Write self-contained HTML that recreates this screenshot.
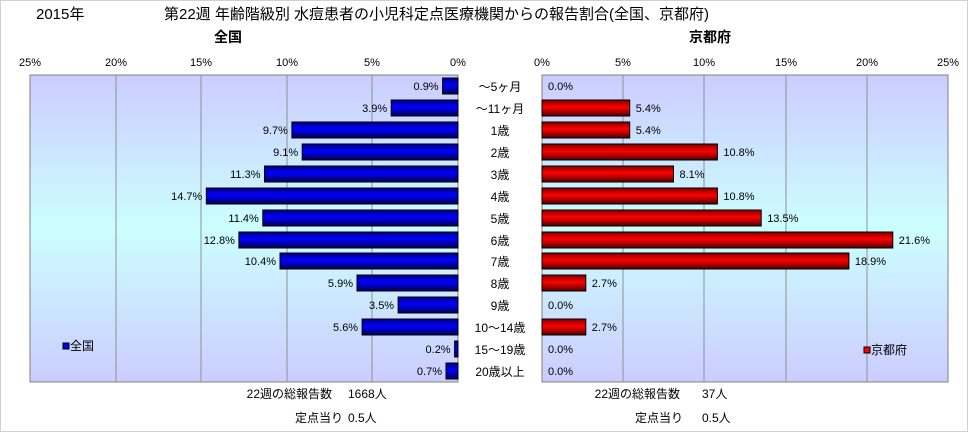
<!DOCTYPE html>
<html><head><meta charset="utf-8"><style>
body{margin:0;background:#fff}
svg{display:block;font-family:"Liberation Sans","Noto Sans CJK JP",sans-serif}
</style></head><body>
<svg width="968" height="432" viewBox="0 0 968 432" xmlns="http://www.w3.org/2000/svg">
<defs>
<linearGradient id="bg" x1="0" y1="0" x2="0" y2="1">
<stop offset="0" stop-color="#ccccff"/><stop offset="0.5" stop-color="#ccffff"/><stop offset="1" stop-color="#ccccff"/>
</linearGradient>
<linearGradient id="bl" x1="0" y1="0" x2="0" y2="1">
<stop offset="0" stop-color="#000080"/><stop offset="0.45" stop-color="#0000ff"/><stop offset="1" stop-color="#000050"/>
</linearGradient>
<linearGradient id="rd" x1="0" y1="0" x2="0" y2="1">
<stop offset="0" stop-color="#800000"/><stop offset="0.45" stop-color="#ff0000"/><stop offset="1" stop-color="#500000"/>
</linearGradient>
</defs>
<rect x="0.5" y="0.5" width="967" height="431" fill="#fff" stroke="#d0d0d0"/>
<text x="36" y="19" font-size="15">2015年</text>
<text x="164" y="19" font-size="15">第22週 年齢階級別 水痘患者の小児科定点医療機関からの報告割合(全国、京都府)</text>
<text x="228" y="42" font-size="14" font-weight="bold" text-anchor="middle">全国</text>
<text x="710" y="42" font-size="14" font-weight="bold" text-anchor="middle">京都府</text>
<rect x="30" y="75" width="428" height="307" fill="url(#bg)" stroke="#808080"/>
<rect x="542" y="75" width="406" height="307" fill="url(#bg)" stroke="#808080"/>
<g stroke="#909090">
<line x1="116" y1="75" x2="116" y2="382"/><line x1="201" y1="75" x2="201" y2="382"/><line x1="287" y1="75" x2="287" y2="382"/><line x1="372" y1="75" x2="372" y2="382"/>
<line x1="623" y1="75" x2="623" y2="382"/><line x1="704" y1="75" x2="704" y2="382"/><line x1="786" y1="75" x2="786" y2="382"/><line x1="867" y1="75" x2="867" y2="382"/>
</g>
<g font-size="11" text-anchor="middle">
<text x="30" y="66">25%</text><text x="116" y="66">20%</text><text x="201" y="66">15%</text><text x="287" y="66">10%</text><text x="372" y="66">5%</text><text x="458" y="66">0%</text>
<text x="542" y="66">0%</text><text x="623" y="66">5%</text><text x="704" y="66">10%</text><text x="786" y="66">15%</text><text x="867" y="66">20%</text><text x="948" y="66">25%</text>
</g>
<g font-size="12" text-anchor="middle">
<text x="500" y="91">～5ヶ月</text><text x="500" y="113">～11ヶ月</text><text x="500" y="135">1歳</text><text x="500" y="157">2歳</text>
<text x="500" y="179">3歳</text><text x="500" y="201">4歳</text><text x="500" y="223">5歳</text><text x="500" y="245">6歳</text>
<text x="500" y="266">7歳</text><text x="500" y="288">8歳</text><text x="500" y="310">9歳</text><text x="500" y="332">10～14歳</text>
<text x="500" y="354">15～19歳</text><text x="500" y="376">20歳以上</text>
</g>
<g fill="url(#bl)" stroke="#000">
<rect x="442.6" y="78" width="15.4" height="16"/>
<rect x="391.2" y="100" width="66.8" height="16"/>
<rect x="291.9" y="122" width="166.1" height="16"/>
<rect x="302.2" y="144" width="155.8" height="16"/>
<rect x="264.5" y="166" width="193.5" height="16"/>
<rect x="206.3" y="188" width="251.7" height="16"/>
<rect x="262.8" y="210" width="195.2" height="16"/>
<rect x="238.9" y="232" width="219.1" height="16"/>
<rect x="280" y="253" width="178" height="16"/>
<rect x="357" y="275" width="101" height="16"/>
<rect x="398.1" y="297" width="59.9" height="16"/>
<rect x="362.1" y="319" width="95.9" height="16"/>
<rect x="454.6" y="341" width="3.4" height="16"/>
<rect x="446" y="363" width="12" height="16"/>
</g>
<g font-size="11" text-anchor="end">
<text x="438.6" y="90">0.9%</text>
<text x="387.2" y="112">3.9%</text>
<text x="287.9" y="134">9.7%</text>
<text x="298.2" y="156">9.1%</text>
<text x="260.5" y="178">11.3%</text>
<text x="202.3" y="200">14.7%</text>
<text x="258.8" y="222">11.4%</text>
<text x="234.9" y="244">12.8%</text>
<text x="276" y="265">10.4%</text>
<text x="353" y="287">5.9%</text>
<text x="394.1" y="309">3.5%</text>
<text x="358.1" y="331">5.6%</text>
<text x="450.6" y="353">0.2%</text>
<text x="442" y="375">0.7%</text>
</g>
<g fill="url(#rd)" stroke="#000">
<rect x="542" y="100" width="87.7" height="16"/>
<rect x="542" y="122" width="87.7" height="16"/>
<rect x="542" y="144" width="175.4" height="16"/>
<rect x="542" y="166" width="131.5" height="16"/>
<rect x="542" y="188" width="175.4" height="16"/>
<rect x="542" y="210" width="219.2" height="16"/>
<rect x="542" y="232" width="350.8" height="16"/>
<rect x="542" y="253" width="306.9" height="16"/>
<rect x="542" y="275" width="43.8" height="16"/>
<rect x="542" y="319" width="43.8" height="16"/>
</g>
<g font-size="11">
<text x="548" y="90">0.0%</text>
<text x="635.7" y="112">5.4%</text>
<text x="635.7" y="134">5.4%</text>
<text x="723.4" y="156">10.8%</text>
<text x="679.5" y="178">8.1%</text>
<text x="723.4" y="200">10.8%</text>
<text x="767.2" y="222">13.5%</text>
<text x="898.8" y="244">21.6%</text>
<text x="854.9" y="265">18.9%</text>
<text x="591.8" y="287">2.7%</text>
<text x="548" y="309">0.0%</text>
<text x="591.8" y="331">2.7%</text>
<text x="548" y="353">0.0%</text>
<text x="548" y="375">0.0%</text>
</g>
<rect x="63" y="343" width="6" height="6" fill="#0000ff" stroke="#000"/>
<text x="70" y="350" font-size="12">全国</text>
<rect x="864" y="347" width="6" height="6" fill="#ff0000" stroke="#000"/>
<text x="871" y="354" font-size="12">京都府</text>
<g font-size="12">
<text x="332" y="398" text-anchor="end">22週の総報告数</text><text x="348" y="398">1668人</text>
<text x="343" y="422" text-anchor="end">定点当り</text><text x="348" y="422">0.5人</text>
<text x="680" y="398" text-anchor="end">22週の総報告数</text><text x="702" y="398">37人</text>
<text x="683" y="422" text-anchor="end">定点当り</text><text x="702" y="422">0.5人</text>
</g>
</svg>
</body></html>
